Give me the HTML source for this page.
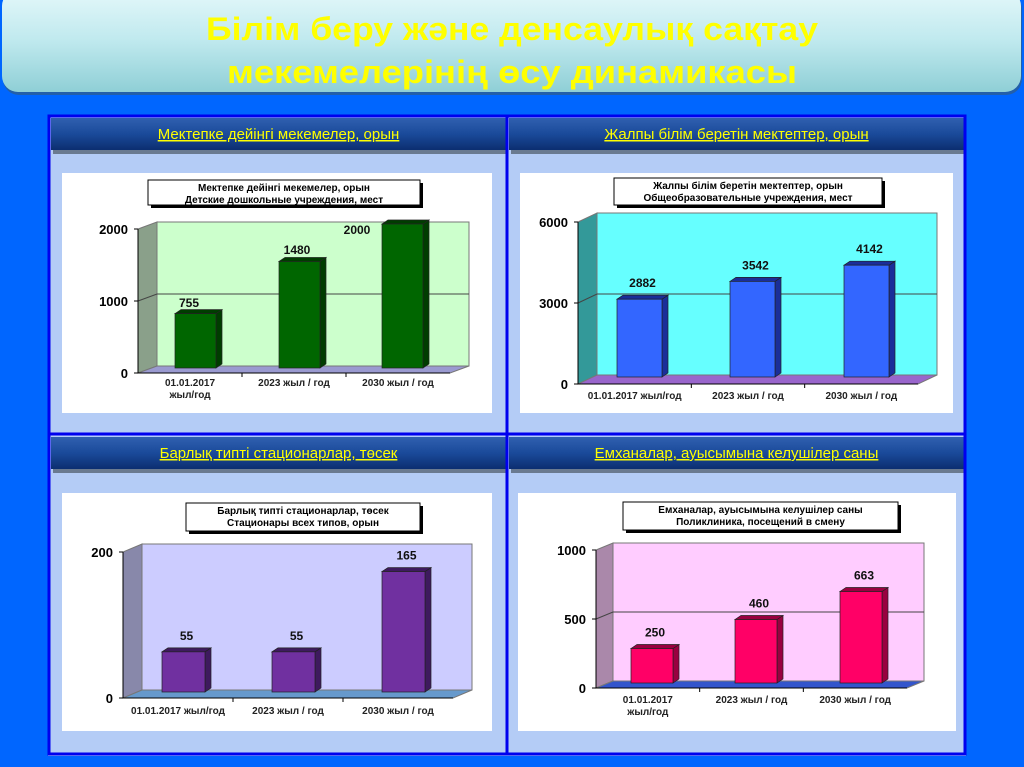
<!DOCTYPE html>
<html><head><meta charset="utf-8"><style>
html,body{margin:0;padding:0;background:#0066ff;}
svg{display:block;font-family:"Liberation Sans",sans-serif;}
</style></head><body>
<svg id="s" width="1024" height="767" viewBox="0 0 1024 767" xmlns="http://www.w3.org/2000/svg">
<defs>
<linearGradient id="tg" x1="0" y1="0" x2="0" y2="1"><stop offset="0" stop-color="#e4f8fa"/><stop offset="0.5" stop-color="#bfe9ee"/><stop offset="1" stop-color="#8fcfd6"/></linearGradient>
<linearGradient id="hg" x1="0" y1="0" x2="0" y2="1"><stop offset="0" stop-color="#3060b0"/><stop offset="0.5" stop-color="#1a4a9a"/><stop offset="1" stop-color="#0c2e70"/></linearGradient>
</defs>
<rect x="0" y="0" width="1024" height="767" fill="#0066ff"/>
<rect x="2" y="-10" width="1019" height="102" rx="16" fill="#3a5a70" opacity="0.6" transform="translate(1,3)"/>
<rect x="2" y="-10" width="1019" height="102" rx="16" fill="url(#tg)"/>
<text x="512" y="40" text-anchor="middle" font-family="Liberation Sans Narrow,Liberation Sans,sans-serif" font-weight="bold" font-size="32" fill="#ffff00" textLength="612" lengthAdjust="spacingAndGlyphs">Білім беру және денсаулық сақтау</text>
<text x="512" y="83" text-anchor="middle" font-family="Liberation Sans Narrow,Liberation Sans,sans-serif" font-weight="bold" font-size="32" fill="#ffff00" textLength="570" lengthAdjust="spacingAndGlyphs">мекемелерінің өсу динамикасы</text>
<rect x="48" y="115" width="918" height="641" fill="#b4ccf6"/>
<g id="g"></g>
<g fill="none" stroke="#0000ee" stroke-width="3">
<rect x="49" y="116" width="916" height="638"/>
<line x1="507" y1="116" x2="507" y2="754"/>
<line x1="49" y1="434" x2="965" y2="434"/>
</g>
</svg>
<script>
var g=document.getElementById('g'),h='';
function hdr(x,y,w,t){
 h+='<rect x="'+(x+2)+'" y="'+(y+4)+'" width="'+w+'" height="32" fill="#6a7a90"/>';
 h+='<rect x="'+x+'" y="'+y+'" width="'+w+'" height="32" fill="url(#hg)"/>';
 h+='<text x="'+(x+w/2)+'" y="'+(y+21)+'" text-anchor="middle" font-size="15" fill="#ffff00" text-decoration="underline">'+t+'</text>';
}
hdr(51,118,455,'Мектепке дейінгі мекемелер, орын');
hdr(509,118,455,'Жалпы білім беретін мектептер, орын');
hdr(51,437,455,'Барлық типті стационарлар, төсек');
hdr(509,437,455,'Емханалар, ауысымына келушілер саны');
function chart(c){
 h+='<rect x="'+c.wx+'" y="'+c.wy+'" width="'+c.ww+'" height="'+c.wh+'" fill="#fff"/>';
 var ax=c.ax,zy=c.zy,my=c.my,rx=c.rx,dx=c.dx,dy=c.dy;
 h+='<rect x="'+(ax+dx)+'" y="'+(my+dy)+'" width="'+(rx-ax)+'" height="'+(zy-my)+'" fill="'+c.bg+'" stroke="#777" stroke-width="1"/>';
 h+='<polygon points="'+ax+','+my+' '+(ax+dx)+','+(my+dy)+' '+(ax+dx)+','+(zy+dy)+' '+ax+','+zy+'" fill="'+c.side+'" stroke="#777" stroke-width="1"/>';
 h+='<polygon points="'+ax+','+zy+' '+(ax+dx)+','+(zy+dy)+' '+(rx+dx)+','+(zy+dy)+' '+rx+','+zy+'" fill="'+c.floor+'" stroke="#777" stroke-width="1"/>';
 var mid=(zy+my)/2;
 if(!c.nomid) h+='<polyline points="'+ax+','+mid+' '+(ax+dx)+','+(mid+dy)+' '+(rx+dx)+','+(mid+dy)+'" fill="none" stroke="#444" stroke-width="1"/>';
 h+='<line x1="'+ax+'" y1="'+my+'" x2="'+ax+'" y2="'+zy+'" stroke="#000"/>';
 h+='<line x1="'+ax+'" y1="'+zy+'" x2="'+rx+'" y2="'+zy+'" stroke="#000"/>';
 var ts=[[zy,c.t[0]],[my,c.t[2]]]; if(!c.nomid) ts.push([mid,c.t[1]]);
 ts.forEach(function(p){
  h+='<line x1="'+(ax-4)+'" y1="'+p[0]+'" x2="'+ax+'" y2="'+p[0]+'" stroke="#000"/>';
  h+='<text x="'+(ax-10)+'" y="'+(p[0]+5)+'" text-anchor="end" font-size="13" font-weight="bold">'+p[1]+'</text>';
 });
 var cw=(rx-ax)/3;
 for(var i=1;i<3;i++)h+='<line x1="'+(ax+cw*i)+'" y1="'+zy+'" x2="'+(ax+cw*i)+'" y2="'+(zy+4)+'" stroke="#000"/>';
 var bd=6,bdy=-4,base=zy+dy+2;
 c.bars.forEach(function(b,i){
  var x=b[0],w=b[1],v=c.v[i],top=base-(v/c.max)*(zy-my);
  h+='<polygon points="'+(x+w)+','+top+' '+(x+w+bd)+','+(top+bdy)+' '+(x+w+bd)+','+(base+bdy)+' '+(x+w)+','+base+'" fill="'+c.bs+'" stroke="#222" stroke-width="0.7"/>';
  h+='<polygon points="'+x+','+top+' '+(x+bd)+','+(top+bdy)+' '+(x+w+bd)+','+(top+bdy)+' '+(x+w)+','+top+'" fill="'+c.bs+'" stroke="#222" stroke-width="0.7"/>';
  h+='<rect x="'+x+'" y="'+top+'" width="'+w+'" height="'+(base-top)+'" fill="'+c.bf+'" stroke="#222" stroke-width="0.7"/>';
  var lx=x+w/2+3, ly=top-12;
  if(c.lpos&&c.lpos[i]){lx=c.lpos[i][0];ly=c.lpos[i][1];}
  h+='<text x="'+lx+'" y="'+ly+'" text-anchor="middle" font-size="12" font-weight="bold" fill="#111">'+v+'</text>';
 });
 c.lab.forEach(function(l,i){
  var cx=ax+cw*(i+0.5);
  l.forEach(function(s,j){h+='<text x="'+cx+'" y="'+(c.ly+j*12)+'" text-anchor="middle" font-size="10" font-weight="bold" fill="#222">'+s+'</text>';});
 });
 var tb=c.tb;
 h+='<rect x="'+(tb[0]+3)+'" y="'+(tb[1]+3)+'" width="'+(tb[2]-tb[0])+'" height="'+(tb[3]-tb[1])+'" fill="#000"/>';
 h+='<rect x="'+tb[0]+'" y="'+tb[1]+'" width="'+(tb[2]-tb[0])+'" height="'+(tb[3]-tb[1])+'" fill="#fff" stroke="#000"/>';
 var tc=(tb[0]+tb[2])/2;
 h+='<text x="'+tc+'" y="'+(tb[1]+11)+'" text-anchor="middle" font-size="10" font-weight="bold">'+c.title[0]+'</text>';
 h+='<text x="'+tc+'" y="'+(tb[1]+23)+'" text-anchor="middle" font-size="10" font-weight="bold">'+c.title[1]+'</text>';
}
var L3=[['01.01.2017','жыл/год'],['2023 жыл / год'],['2030 жыл / год']];
var L1=[['01.01.2017 жыл/год'],['2023 жыл / год'],['2030 жыл / год']];
chart({wx:62,wy:173,ww:430,wh:240,ax:138,zy:373,my:229,rx:450,dx:19,dy:-7,bg:'#ccffcc',side:'#8aa08a',floor:'#9a9ad0',
 t:['0','1000','2000'],max:2000,v:[755,1480,2000],bars:[[175,41],[279,41],[382,41]],bf:'#006600',bs:'#003d00',
 lpos:[[189,307],[297,254],[357,234]],
 lab:L3,ly:386,tb:[148,180,420,205],title:['Мектепке дейінгі мекемелер,  орын','Детские дошкольные  учреждения,  мест']});
chart({wx:520,wy:173,ww:433,wh:240,ax:578,zy:384,my:222,rx:918,dx:19,dy:-9,bg:'#66ffff',side:'#339999',floor:'#9966cc',
 t:['0','3000','6000'],max:6000,v:[2882,3542,4142],bars:[[617,45],[730,45],[844,45]],bf:'#3366ff',bs:'#1a2e99',
 lab:L1,ly:399,tb:[614,178,882,205],title:['Жалпы білім беретін мектептер, орын','Общеобразовательные  учреждения, мест']});
chart({wx:62,wy:493,ww:430,wh:238,ax:123,zy:698,my:552,rx:453,dx:19,dy:-8,bg:'#ccccff',side:'#8888aa',floor:'#6699cc',nomid:true,
 t:['0','','200'],max:200,v:[55,55,165],bars:[[162,43],[272,43],[382,43]],bf:'#7030a0',bs:'#3e1a5e',
 lab:L1,ly:714,tb:[186,503,420,531],title:['Барлық типті стационарлар, төсек','Стационары всех типов, орын']});
chart({wx:518,wy:493,ww:438,wh:238,ax:596,zy:688,my:550,rx:907,dx:17,dy:-7,bg:'#ffccff',side:'#aa88aa',floor:'#3355cc',
 t:['0','500','1000'],max:1000,v:[250,460,663],bars:[[631,42],[735,42],[840,42]],bf:'#ff0066',bs:'#990040',
 lab:L3,ly:703,tb:[623,502,898,530],title:['Емханалар,  ауысымына  келушілер  саны','Поликлиника,  посещений  в  смену']});
g.innerHTML=h;
</script>
</body></html>
